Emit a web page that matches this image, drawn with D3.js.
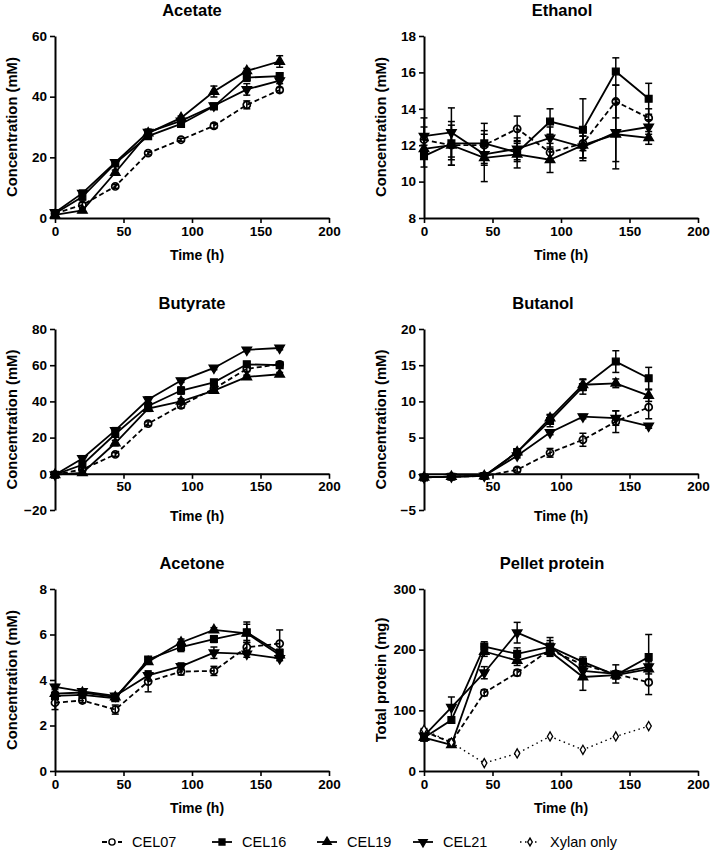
<!DOCTYPE html>
<html><head><meta charset="utf-8">
<script src="https://cdn.jsdelivr.net/npm/d3@7"></script>
<style>
body{margin:0;background:#fff;}
svg{font-family:"Liberation Sans",Arial,sans-serif;}
</style></head>
<body><svg id="c" width="711" height="850"></svg>
<script>
// ---------- data ----------
const times = [0, 20, 44, 68, 92, 116, 140, 164];
const seriesNames = ["CEL07", "CEL16", "CEL19", "CEL21", "Xylan only"];
const xTicks = [0, 50, 100, 150, 200];

const panelTitles = ["Acetate", "Ethanol", "Butyrate", "Butanol", "Acetone", "Pellet protein"];
const yLabels = ["Concentration (mM)", "Concentration (mM)", "Concentration (mM)", "Concentration (mM)", "Concentration (mM)", "Total protein (mg)"];
const yDomains = [[0, 60], [8, 18], [-20, 80], [-5, 20], [0, 8], [0, 300]];
const yTicks = [[0, 20, 40, 60], [8, 10, 12, 14, 16, 18], [-20, 0, 20, 40, 60, 80], [-5, 0, 5, 10, 15, 20], [0, 2, 4, 6, 8], [0, 100, 200, 300]];

// Acetate
const acetate_CEL07 = [1.5, 4.3, 10.4, 21.4, 25.8, 30.4, 37.3, 42.2];
const acetate_CEL16 = [1.5, 7.0, 18.0, 27.0, 31.0, 36.8, 46.3, 46.8];
const acetate_CEL19 = [1.0, 2.5, 15.0, 28.0, 33.0, 41.7, 48.5, 51.6];
const acetate_CEL21 = [1.8, 8.2, 18.3, 28.3, 32.0, 37.0, 42.4, 45.3];
const acetateErr_CEL07 = [0.5, 0.8, 0.6, 0.6, 0.5, 0.8, 1.3, 0.8];
const acetateErr_CEL16 = [0.5, 1.0, 0.8, 0.8, 0.6, 0.6, 1.2, 1.0];
const acetateErr_CEL19 = [0.5, 0.6, 0.8, 0.8, 0.6, 1.8, 0.8, 1.9];
const acetateErr_CEL21 = [0.5, 1.0, 0.8, 1.0, 0.6, 0.6, 1.9, 1.0];

// Ethanol
const ethanol_CEL07 = [12.3, 12.0, 12.0, 12.9, 11.6, 12.1, 14.4, 13.5];
const ethanol_CEL16 = [11.4, 12.1, 12.1, 11.6, 13.3, 12.85, 16.05, 14.55];
const ethanol_CEL19 = [11.8, 12.0, 11.3, 11.5, 11.2, 12.0, 12.6, 12.4];
const ethanol_CEL21 = [12.5, 12.7, 11.5, 11.8, 12.4, 11.9, 12.7, 13.0];
const ethanolErr_CEL07 = [0.7, 1.1, 0.8, 0.7, 0.5, 0.4, 0.9, 0.5];
const ethanolErr_CEL16 = [0.6, 1.2, 1.1, 0.5, 0.7, 1.7, 0.75, 0.85];
const ethanolErr_CEL19 = [0.5, 0.8, 1.3, 0.75, 0.7, 0.7, 1.9, 0.35];
const ethanolErr_CEL21 = [1.0, 1.35, 0.6, 0.6, 0.6, 0.6, 1.6, 0.4];

// Butyrate
const butyrate_CEL07 = [-0.5, 2.4, 10.7, 27.7, 37.8, 47.0, 58.0, 60.5];
const butyrate_CEL16 = [-0.5, 5.0, 22.0, 37.5, 46.0, 50.5, 60.5, 60.0];
const butyrate_CEL19 = [-0.5, 0.5, 17.0, 36.0, 40.0, 46.0, 53.5, 55.0];
const butyrate_CEL21 = [-0.5, 8.5, 24.0, 41.0, 51.5, 58.5, 68.5, 69.5];
const butyrateErr_CEL07 = [1.0, 1.0, 1.0, 1.0, 1.5, 1.5, 1.5, 1.5];
const butyrateErr_CEL16 = [1.0, 1.0, 1.5, 1.5, 2.0, 1.5, 1.5, 1.5];
const butyrateErr_CEL19 = [1.0, 1.0, 1.5, 1.5, 1.5, 1.5, 1.0, 1.0];
const butyrateErr_CEL21 = [1.0, 1.5, 1.5, 1.5, 1.0, 1.0, 1.0, 1.0];

// Butanol
const butanol_CEL07 = [-0.5, -0.4, -0.3, 0.55, 2.9, 4.7, 7.2, 9.2];
const butanol_CEL16 = [-0.5, -0.4, -0.3, 3.0, 7.3, 12.0, 15.5, 13.2];
const butanol_CEL19 = [-0.5, -0.4, -0.3, 3.0, 7.7, 12.3, 12.5, 10.8];
const butanol_CEL21 = [-0.5, -0.4, -0.3, 2.5, 5.7, 7.9, 7.7, 6.6];
const butanolErr_CEL07 = [0.2, 0.2, 0.2, 0.3, 0.6, 0.9, 1.5, 1.6];
const butanolErr_CEL16 = [0.2, 0.2, 0.2, 0.3, 0.8, 1.0, 1.5, 1.5];
const butanolErr_CEL19 = [0.2, 0.2, 0.2, 0.3, 0.5, 0.8, 0.6, 0.8];
const butanolErr_CEL21 = [0.2, 0.2, 0.2, 0.3, 0.3, 0.3, 1.0, 0.3];

// Acetone
const acetone_CEL07 = [3.0, 3.1, 2.7, 3.93, 4.37, 4.4, 5.44, 5.6];
const acetone_CEL16 = [3.3, 3.35, 3.2, 4.9, 5.45, 5.8, 6.1, 5.2];
const acetone_CEL19 = [3.4, 3.45, 3.25, 4.8, 5.65, 6.2, 6.05, 5.1];
const acetone_CEL21 = [3.7, 3.5, 3.3, 4.2, 4.6, 5.2, 5.15, 4.95];
const acetoneErr_CEL07 = [0.3, 0.1, 0.2, 0.45, 0.15, 0.2, 0.3, 0.6];
const acetoneErr_CEL16 = [0.1, 0.1, 0.1, 0.1, 0.2, 0.15, 0.45, 0.15];
const acetoneErr_CEL19 = [0.1, 0.1, 0.1, 0.1, 0.15, 0.1, 0.4, 0.15];
const acetoneErr_CEL21 = [0.1, 0.1, 0.1, 0.2, 0.15, 0.25, 0.15, 0.1];

// Pellet protein
const pellet_CEL07 = [65, 47, 129, 162, 200, 175, 160, 146];
const pellet_CEL16 = [55, 84, 205, 193, 205, 180, 158, 188];
const pellet_CEL19 = [55, 43, 197, 182, 197, 155, 158, 168];
const pellet_CEL21 = [58, 105, 162, 228, 205, 165, 160, 172];
const pellet_Xylan = [68, 47, 13, 29, 57, 35, 57, 74];
const pelletErr_CEL07 = [5, 5, 5, 5, 8, 5, 5, 20];
const pelletErr_CEL16 = [5, 5, 8, 10, 10, 8, 6, 37];
const pelletErr_CEL19 = [5, 3, 8, 8, 8, 22, 6, 8];
const pelletErr_CEL21 = [5, 17, 10, 17, 15, 10, 15, 8];
const pelletErr_Xylan = [0, 0, 0, 0, 0, 0, 0, 0];

const panelValues = [
  [acetate_CEL07, acetate_CEL16, acetate_CEL19, acetate_CEL21],
  [ethanol_CEL07, ethanol_CEL16, ethanol_CEL19, ethanol_CEL21],
  [butyrate_CEL07, butyrate_CEL16, butyrate_CEL19, butyrate_CEL21],
  [butanol_CEL07, butanol_CEL16, butanol_CEL19, butanol_CEL21],
  [acetone_CEL07, acetone_CEL16, acetone_CEL19, acetone_CEL21],
  [pellet_CEL07, pellet_CEL16, pellet_CEL19, pellet_CEL21, pellet_Xylan]
];
const panelErrors = [
  [acetateErr_CEL07, acetateErr_CEL16, acetateErr_CEL19, acetateErr_CEL21],
  [ethanolErr_CEL07, ethanolErr_CEL16, ethanolErr_CEL19, ethanolErr_CEL21],
  [butyrateErr_CEL07, butyrateErr_CEL16, butyrateErr_CEL19, butyrateErr_CEL21],
  [butanolErr_CEL07, butanolErr_CEL16, butanolErr_CEL19, butanolErr_CEL21],
  [acetoneErr_CEL07, acetoneErr_CEL16, acetoneErr_CEL19, acetoneErr_CEL21],
  [pelletErr_CEL07, pelletErr_CEL16, pelletErr_CEL19, pelletErr_CEL21, pelletErr_Xylan]
];

// ---------- layout / style ----------
const colX = [55, 424], plotW = 274;
const rowY = [36, 329, 589], plotH = [182, 181, 182];
const titleX = [192, 562, 192, 543, 192, 552];
const styles = [
  {sym: d3.symbolCircle, size: 40, fill: "none", dash: "5,3"},
  {sym: d3.symbolSquare, size: 46, fill: "#000", dash: null},
  {sym: d3.symbolTriangle, size: 40, fill: "#000", dash: null},
  {sym: d3.symbolTriangle, size: 40, fill: "#000", dash: null, rot: 180},
  {sym: d3.symbolDiamond, size: 24, fill: "#fff", dash: "1.5,3.5"}
];

const svg = d3.select("#c");

panelTitles.forEach((title, i) => {
  const col = i % 2, row = Math.floor(i / 2);
  const x0 = colX[col], y0 = rowY[row], h = plotH[row];
  const g = svg.append("g").attr("transform", `translate(${x0},${y0})`);
  const x = d3.scaleLinear().domain([0, 200]).range([0, plotW]);
  const y = d3.scaleLinear().domain(yDomains[i]).range([h, 0]);
  const crossesZero = yDomains[i][0] < 0;
  const xAxisY = crossesZero ? y(0) : h;

  // title
  svg.append("text").attr("x", titleX[i]).attr("y", y0 - 20)
    .attr("text-anchor", "middle").attr("font-size", 16.5).attr("font-weight", "bold").text(title);

  // axes
  const ya = g.append("g").call(d3.axisLeft(y).tickValues(yTicks[i]).tickSize(5).tickSizeOuter(0).tickPadding(3));
  const xa = g.append("g").attr("transform", `translate(0,${xAxisY})`)
    .call(d3.axisBottom(x).tickValues(crossesZero ? xTicks.slice(1) : xTicks).tickSize(5).tickSizeOuter(0).tickPadding(3));
  [ya, xa].forEach(a => {
    a.select(".domain").attr("stroke-width", 2);
    a.selectAll(".tick line").attr("stroke-width", 1.6);
    a.selectAll("text").attr("font-size", 13.5).attr("font-weight", "bold").attr("fill", "#000");
  });

  // axis labels
  svg.append("text").attr("x", x0 + plotW / 2 + (col === 0 ? 5 : 0)).attr("y", crossesZero ? y0 + h + 11 : y0 + h + 42)
    .attr("text-anchor", "middle").attr("font-size", 14).attr("font-weight", "bold").text("Time (h)");
  svg.append("text").attr("transform", `translate(${x0 - 38},${y0 + h / 2}) rotate(-90)`)
    .attr("text-anchor", "middle").attr("font-size", 14.8).attr("font-weight", "bold").text(yLabels[i]);

  const vals = panelValues[i], errs = panelErrors[i];
  const line = d3.line().x((d, k) => x(times[k])).y(d => y(d));
  // lines
  vals.forEach((v, s) => {
    g.append("path").datum(v).attr("d", line).attr("fill", "none").attr("stroke", "#000")
      .attr("stroke-width", s === 4 ? 1.4 : 1.8).attr("stroke-dasharray", styles[s].dash);
  });
  // error bars
  vals.forEach((v, s) => {
    v.forEach((d, k) => {
      const e = errs[s][k];
      if (!e) return;
      const cx = x(times[k]);
      const eg = g.append("g").attr("stroke", "#000").attr("stroke-width", 1.5);
      eg.append("line").attr("x1", cx).attr("x2", cx).attr("y1", y(d - e)).attr("y2", y(d + e));
      eg.append("line").attr("x1", cx - 3.5).attr("x2", cx + 3.5).attr("y1", y(d + e)).attr("y2", y(d + e));
      eg.append("line").attr("x1", cx - 3.5).attr("x2", cx + 3.5).attr("y1", y(d - e)).attr("y2", y(d - e));
    });
  });
  // markers
  vals.forEach((v, s) => {
    const st = styles[s];
    g.selectAll(null).data(v).enter().append("path")
      .attr("d", d3.symbol().type(st.sym).size(st.size))
      .attr("transform", (d, k) => `translate(${x(times[k])},${y(d)}) rotate(${st.rot || 0})`)
      .attr("fill", st.fill).attr("stroke", "#000").attr("stroke-width", s === 0 ? 1.7 : 1.3);
  });
});

// legend
const legX = [112, 222, 327, 423, 530];
const legY = 842;
seriesNames.forEach((name, s) => {
  const st = styles[s];
  const cx = legX[s];
  svg.append("line").attr("x1", cx - 10).attr("x2", cx + 10).attr("y1", legY).attr("y2", legY)
    .attr("stroke", "#000").attr("stroke-width", s === 4 ? 1.4 : 1.8).attr("stroke-dasharray", st.dash);
  svg.append("path").attr("d", d3.symbol().type(st.sym).size(st.size * 0.75))
    .attr("transform", `translate(${cx},${legY}) rotate(${st.rot || 0})`)
    .attr("fill", st.fill === "none" ? "#fff" : st.fill).attr("stroke", "#000").attr("stroke-width", 1.4);
  svg.append("text").attr("x", cx + 20).attr("y", legY + 5).attr("font-size", 14.5).text(name);
});
</script></body></html>
